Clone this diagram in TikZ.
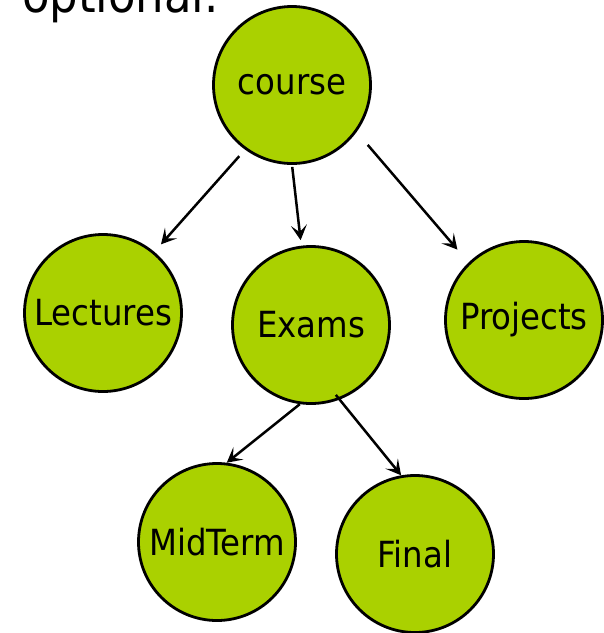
\documentclass[tikz,border=0pt]{standalone}
\usepackage{fontspec}
\setmainfont{DejaVu Sans Condensed}
\usetikzlibrary{arrows.meta}
\definecolor{nodegreen}{RGB}{170,209,0}
\tikzset{>={Stealth[length=15pt,width=16pt,inset=7pt]}}
\tikzset{topic/.style={circle,draw,fill=nodegreen,line width=2.8pt,
    minimum size=157pt,inner sep=0pt,font=\fontsize{36}{40}\selectfont},
  link/.style={->,line width=2.5pt}}

\begin{document}
\begin{tikzpicture}[x=1pt,y=-1pt]
    \useasboundingbox (0,0) rectangle (604,633);
    \node[anchor=base west,inner sep=0pt,font=\fontsize{50}{56}\selectfont] at (22,12) (opt) {optional.};
    \node[topic] at (292,85) (course) {course};
    \node[topic] at (103,313) (lec) {Lectures};
    \node[topic] at (311,325) (exams) {Exams};
    \node[topic] at (524,320) (proj) {Projects};
    \node[topic] at (217,542) (mid) {MidTerm};
    \node[topic] at (415,554) (final) {Final};
    \draw[link,shorten <=8.7pt,shorten >=10pt] (course.234) -- (lec.50);
    \draw[link,shorten <=2pt,shorten >=5.6pt] (course.270) -- (exams.97);
    \draw[link,shorten <=17pt,shorten >=17pt] (course.324) -- (proj.134);
    \draw[link] (exams.262) -- (mid.83);
    \draw[link,shorten <=-6pt] (exams.291) -- (final.100);
\end{tikzpicture}
\end{document}
